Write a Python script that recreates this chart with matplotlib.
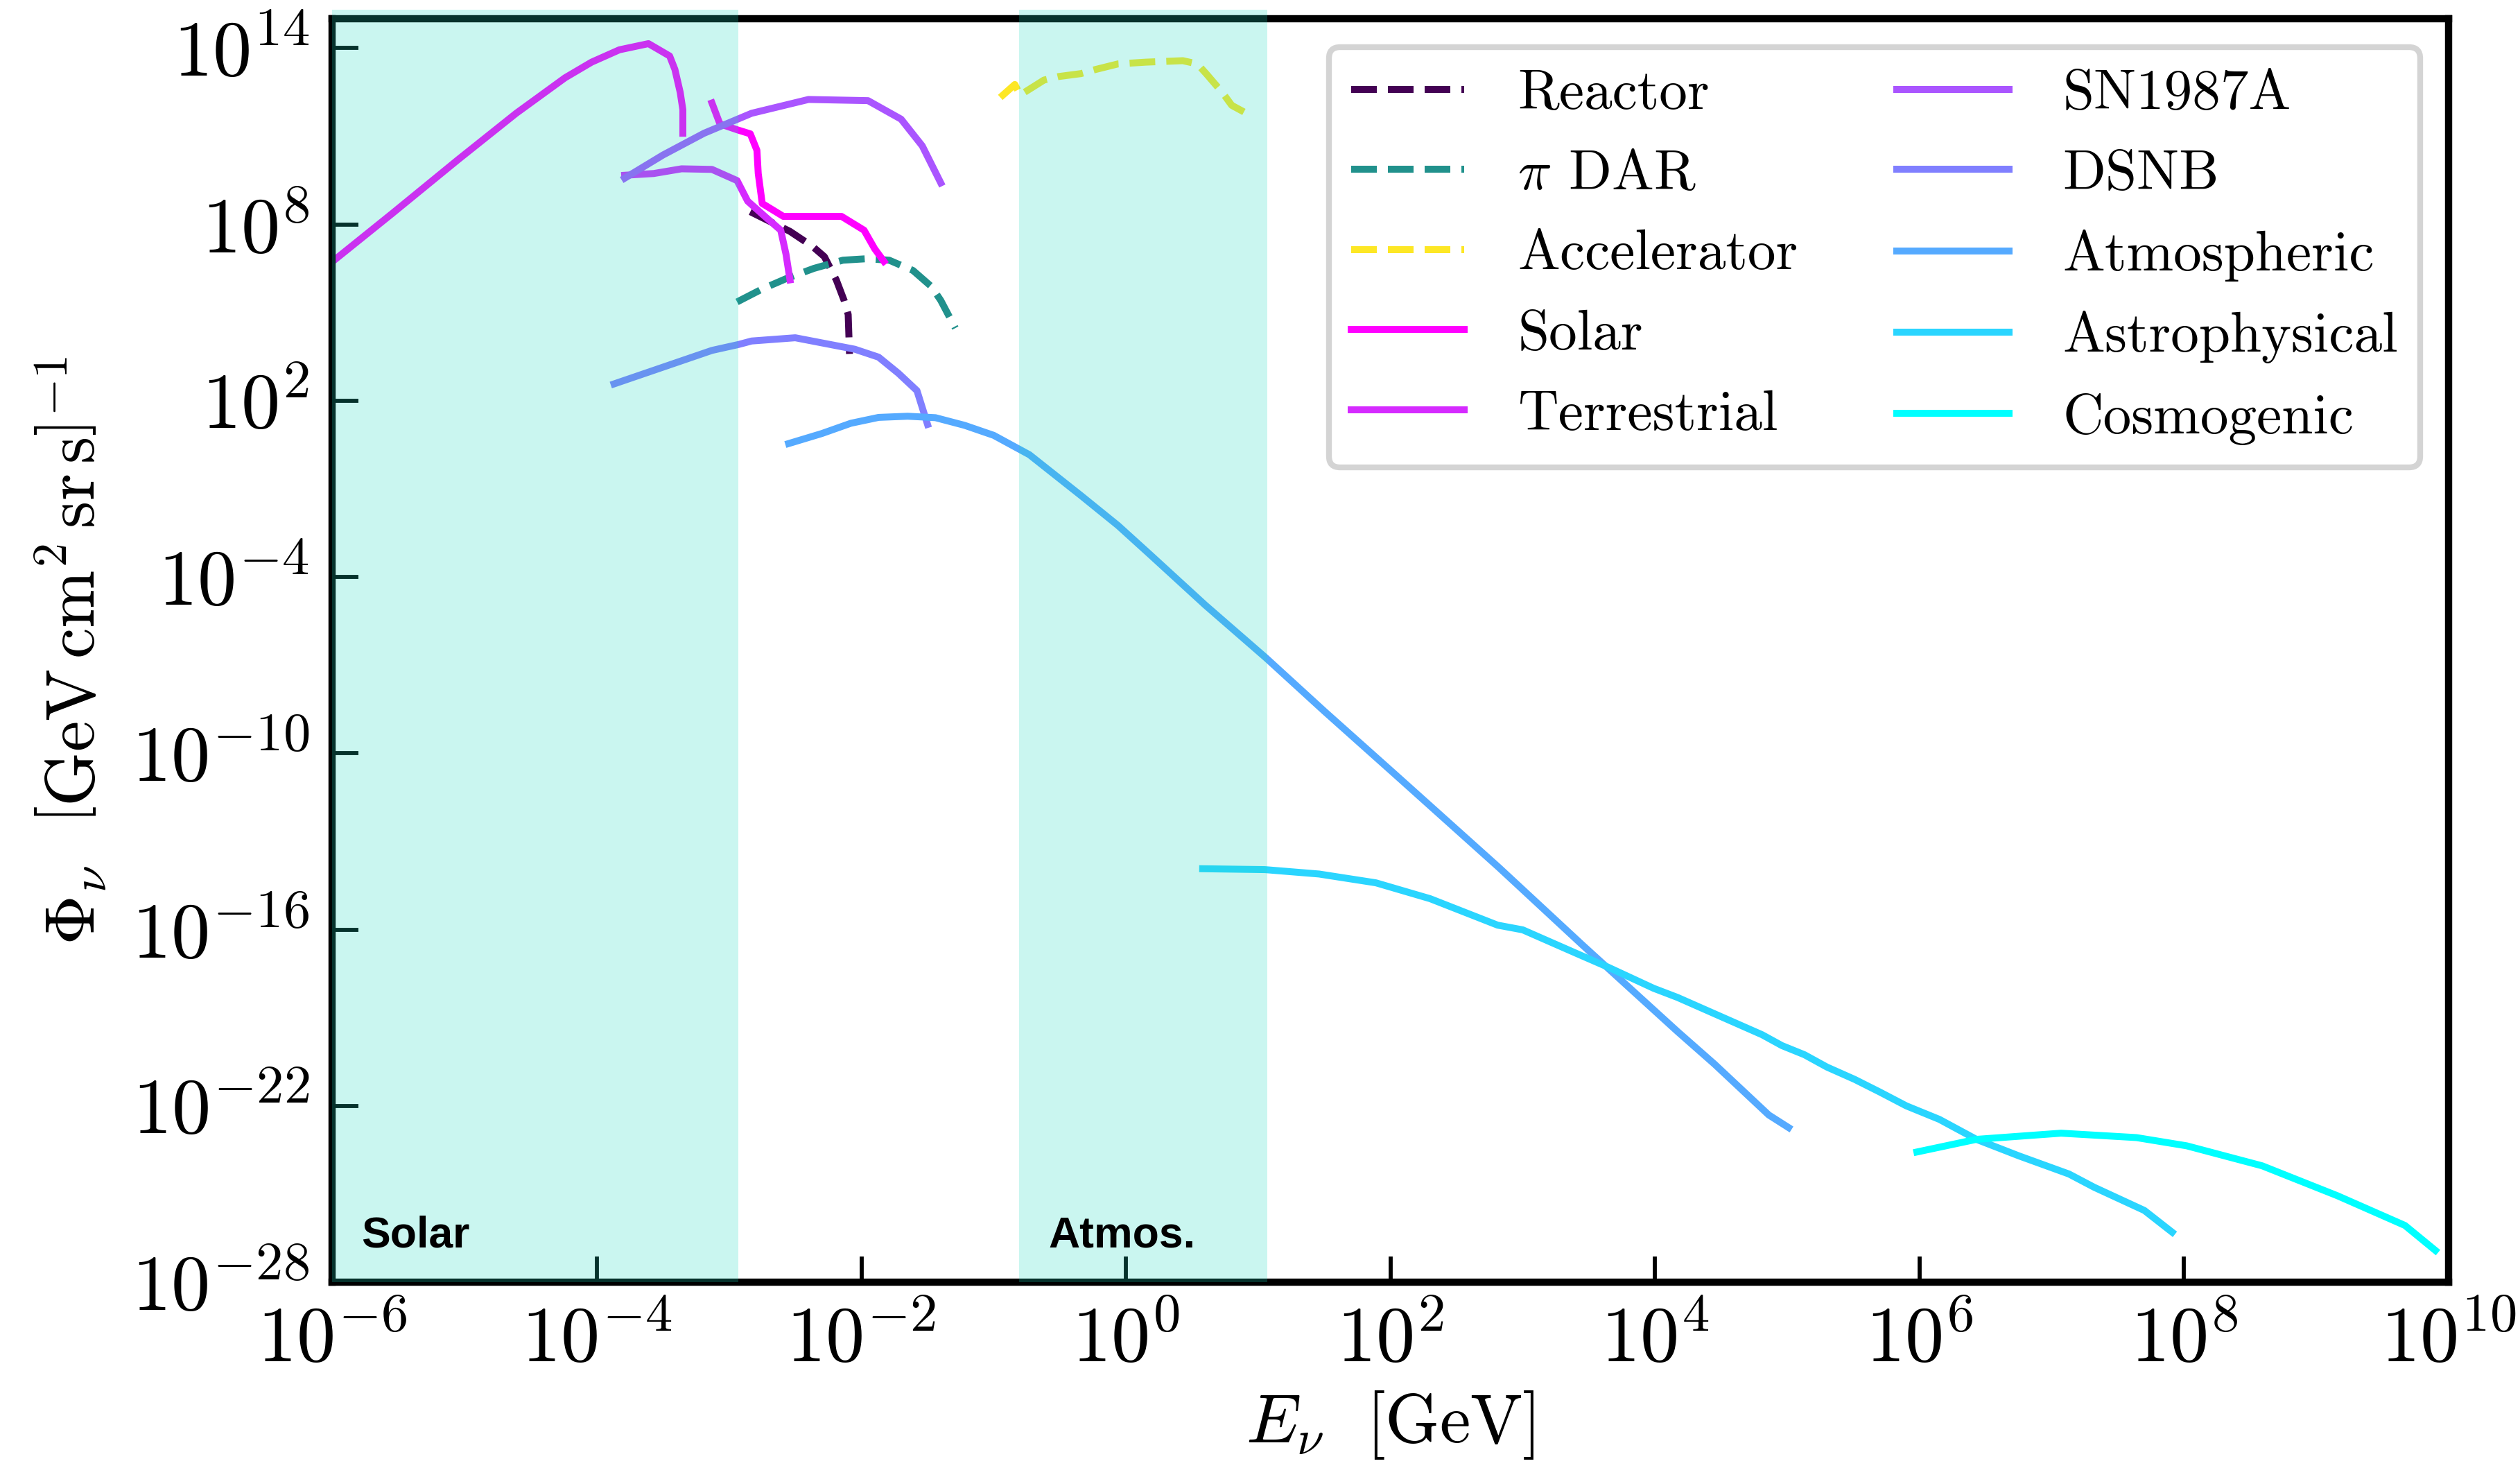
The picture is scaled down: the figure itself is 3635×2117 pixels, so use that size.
import numpy as np
import matplotlib.pyplot as plt

plt.rcParams['font.family'] = 'serif'
plt.rcParams['font.serif'] = ['cmr10']
plt.rcParams['mathtext.fontset'] = 'cm'
plt.rcParams['axes.formatter.use_mathtext'] = True

# values: log10(E / GeV) and log10(flux)
reactor_logE = [-2.84, -2.54, -2.37, -2.28, -2.19, -2.13, -2.10, -2.09]
reactor_logF = [8.43, 7.76, 7.25, 6.90, 6.11, 5.40, 4.93, 3.59]

pidar_logE = [-2.94, -2.75, -2.57, -2.36, -2.14, -1.96, -1.79, -1.61, -1.47, -1.40, -1.29]
pidar_logF = [5.36, 5.80, 6.15, 6.50, 6.78, 6.83, 6.78, 6.43, 5.88, 5.41, 4.47]

accel_logE = [-0.95, -0.84, -0.80, -0.62, -0.51, -0.34, -0.23, -0.06, 0.15, 0.43, 0.54,
              0.61, 0.73, 0.80, 0.96]
accel_logF = [12.32, 12.76, 12.40, 12.91, 13.03, 13.13, 13.27, 13.46, 13.52, 13.57, 13.46,
              13.11, 12.48, 12.05, 11.66]

# thermal part and nuclear part of the solar flux, separated by a gap
solar_logE = [-6.00, -5.55, -5.05, -4.61, -4.24, -4.04, -3.83, -3.61, -3.45, -3.41, -3.37,
              -3.35, -3.35, np.nan,
              -3.13, -3.07, -2.94, -2.84, -2.79, -2.78, -2.75, -2.59, -2.35, -2.15, -1.98,
              -1.90, -1.83]
solar_logF = [6.73, 8.36, 10.20, 11.78, 12.99, 13.52, 13.94, 14.15, 13.73, 13.27, 12.49,
              11.90, 11.10, np.nan,
              12.13, 11.42, 11.22, 11.08, 10.52, 9.73, 8.71, 8.27, 8.27, 8.27, 7.80,
              7.17, 6.74]

terr_logE = [-3.79, -3.57, -3.36, -3.13, -2.94, -2.86, -2.73, -2.61, -2.57, -2.54]
terr_logF = [9.67, 9.73, 9.89, 9.87, 9.49, 8.79, 8.27, 7.80, 6.98, 6.11]

sn_logE = [-3.79, -3.50, -3.19, -2.83, -2.40, -1.95, -1.70, -1.54, -1.40]
sn_logF = [9.57, 10.36, 11.10, 11.78, 12.25, 12.21, 11.58, 10.67, 9.41]

dsnb_logE = [-3.87, -3.13, -2.93, -2.83, -2.50, -2.05, -1.87, -1.72, -1.58, -1.50]
dsnb_logF = [2.57, 3.71, 3.91, 4.03, 4.14, 3.75, 3.48, 2.93, 2.34, 1.19]

atm_logE = [-2.55, -2.30, -2.08, -1.87, -1.65, -1.44, -1.22, -1.00, -0.73, -0.34, -0.06,
            0.19, 0.60, 1.06, 1.50, 2.04, 2.82, 3.45, 4.17, 4.45, 4.86, 5.01]
atm_logF = [0.54, 0.88, 1.23, 1.43, 1.47, 1.42, 1.16, 0.82, 0.16, -1.23, -2.25,
            -3.27, -4.96, -6.76, -8.57, -10.74, -13.89, -16.52, -19.47, -20.58, -22.31, -22.74]

astro_logE = [0.58, 1.05, 1.46, 1.89, 2.30, 2.81, 3.00, 3.40, 3.64, 3.99, 4.17, 4.81, 4.96,
              5.13, 5.30, 5.51, 5.70, 5.90, 6.15, 6.43, 6.75, 7.13, 7.32, 7.70, 7.91]
astro_logF = [-13.93, -13.96, -14.11, -14.41, -14.95, -15.85, -16.01, -16.80, -17.27, -18.00,
              -18.31, -19.58, -19.95, -20.26, -20.68, -21.10, -21.53, -22.00, -22.46, -23.14,
              -23.70, -24.32, -24.77, -25.56, -26.30]

cosmo_logE = [5.98, 6.43, 7.07, 7.64, 8.02, 8.59, 9.16, 9.67, 9.90]
cosmo_logF = [-23.57, -23.14, -22.93, -23.08, -23.36, -24.04, -25.06, -26.07, -26.92]

# shaded energy windows (GeV) and their labels
regions = [(1e-6, 1.17e-3), (0.156, 11.7)]
region_names = ['Solar', 'Atmos.']
region_label_x = [1.65e-6, 0.26]
region_label_y = 10**-26.8

dashed = [('Reactor', reactor_logE, reactor_logF),
          (r'$\pi$ DAR', pidar_logE, pidar_logF),
          ('Accelerator', accel_logE, accel_logF)]
solid = [('Solar', solar_logE, solar_logF),
         ('Terrestrial', terr_logE, terr_logF),
         ('SN1987A', sn_logE, sn_logF),
         ('DSNB', dsnb_logE, dsnb_logF),
         ('Atmospheric', atm_logE, atm_logF),
         ('Astrophysical', astro_logE, astro_logF),
         ('Cosmogenic', cosmo_logE, cosmo_logF)]

dash_colors = plt.cm.viridis([0.0, 0.5, 1.0])
solid_colors = plt.cm.cool(np.linspace(1, 0, len(solid)))

fig = plt.figure(figsize=(12.12, 7.057))
ax = fig.add_axes([0.13185, 0.12659, 0.83955, 0.86065])

lw = 2.4
for (name, le, lf), c in zip(dashed, dash_colors):
    ax.plot(10**np.array(le), 10**np.array(lf), ls='--', color=c, lw=lw, label=name)
for (name, le, lf), c in zip(solid, solid_colors):
    ax.plot(10**np.array(le), 10**np.array(lf), ls='-', color=c, lw=lw, label=name)

ax.set_xscale('log')
ax.set_yscale('log')
ax.set_xlim(1e-6, 1e10)
ax.set_ylim(1e-28, 1e15)

for (lo, hi), name, tx in zip(regions, region_names, region_label_x):
    ax.axvspan(lo, hi, ymin=0, ymax=1.007, color=(0.1, 0.85, 0.75), alpha=0.23,
               lw=0, zorder=4, clip_on=False)
    ax.text(tx, region_label_y, name, family='Liberation Sans', fontweight='bold',
            fontsize=15, va='baseline', ha='left', zorder=5)

ax.set_xticks([10.0**k for k in range(-6, 11, 2)])
ax.set_yticks([10.0**k for k in range(-28, 15, 6)])
ax.minorticks_off()
ax.tick_params(direction='in', length=9, width=1.4, labelsize=27, pad=8,
               top=False, right=False)
for s in ax.spines.values():
    s.set_linewidth(2.5)

ax.set_xlabel(r'$E_\nu\ \ [\mathrm{GeV}]$', fontsize=24, labelpad=4)
ax.set_ylabel(r'$\Phi_\nu\ \ \left[\mathrm{GeV\,cm^2\,sr\,s}\right]^{-1}$', fontsize=24,
              labelpad=8)

leg = ax.legend(loc='upper right', ncol=2, fontsize=19.5, labelspacing=0.52,
                handlelength=2.0, handletextpad=0.95, columnspacing=1.75,
                fancybox=True, framealpha=1, edgecolor='0.83')
leg.get_frame().set_linewidth(2)
leg.set_zorder(6)

fig.savefig('out.png', dpi=300)
